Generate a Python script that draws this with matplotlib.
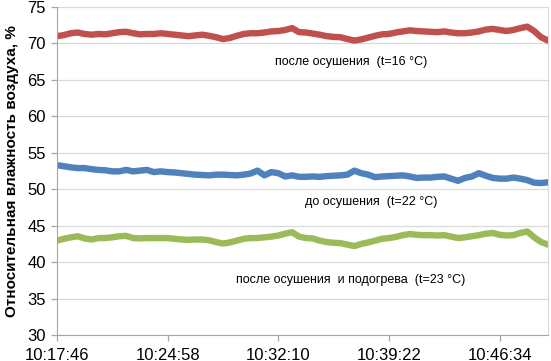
import numpy as np
import matplotlib
matplotlib.use("Agg")
import matplotlib.pyplot as plt

plt.rcParams['font.family'] = ['Liberation Sans', 'DejaVu Sans']

# sample interval 27 s, 72 samples starting 10:17:46
step_s = 27
tick_labels = ["10:17:46", "10:24:58", "10:32:10", "10:39:22", "10:46:34"]
tick_pos_s = [0, 432, 864, 1296, 1728]

after_drying = [71.0, 71.15, 71.4, 71.5, 71.3, 71.2, 71.3, 71.25, 71.4, 71.55,
                71.6, 71.4, 71.25, 71.3, 71.3, 71.4, 71.3, 71.2, 71.1, 71.0,
                71.1, 71.2, 71.05, 70.85, 70.6, 70.75, 71.05, 71.3, 71.4, 71.4,
                71.5, 71.65, 71.7, 71.85, 72.1, 71.55, 71.5, 71.35, 71.2, 71.0,
                70.9, 70.85, 70.6, 70.4, 70.55, 70.8, 71.05, 71.25, 71.3, 71.5,
                71.65, 71.8, 71.7, 71.65, 71.6, 71.55, 71.65, 71.5, 71.4, 71.4,
                71.5, 71.65, 71.9, 72.0, 71.85, 71.7, 71.85, 72.1, 72.3, 71.7,
                70.85, 70.4]

before_drying = [53.3, 53.15, 53.0, 52.9, 52.9, 52.75, 52.65, 52.6, 52.45, 52.45,
                 52.65, 52.45, 52.55, 52.65, 52.35, 52.45, 52.35, 52.3, 52.2, 52.1,
                 52.0, 51.95, 51.9, 52.0, 52.0, 51.95, 51.9, 52.0, 52.15, 52.55,
                 51.9, 52.35, 52.2, 51.75, 51.9, 51.7, 51.7, 51.75, 51.7, 51.8,
                 51.85, 51.9, 52.0, 52.55, 52.2, 52.0, 51.65, 51.75, 51.8, 51.85,
                 51.9, 51.75, 51.55, 51.6, 51.6, 51.7, 51.75, 51.45, 51.15, 51.55,
                 51.75, 52.2, 51.85, 51.55, 51.45, 51.45, 51.6, 51.45, 51.25, 50.9,
                 50.85, 50.95]

after_heating = [42.95, 43.2, 43.4, 43.55, 43.25, 43.1, 43.3, 43.3, 43.4, 43.55,
                 43.6, 43.3, 43.25, 43.3, 43.3, 43.3, 43.3, 43.2, 43.1, 43.05,
                 43.1, 43.1, 43.0, 42.75, 42.55, 42.7, 42.95, 43.2, 43.3, 43.3,
                 43.4, 43.5, 43.65, 43.9, 44.1, 43.5, 43.3, 43.25, 42.95, 42.75,
                 42.65, 42.6, 42.4, 42.2, 42.5, 42.7, 42.95, 43.2, 43.3, 43.45,
                 43.7, 43.85, 43.75, 43.7, 43.7, 43.65, 43.7, 43.5, 43.3, 43.4,
                 43.55, 43.7, 43.9, 44.0, 43.75, 43.65, 43.7, 44.0, 44.2, 43.4,
                 42.75, 42.4]

labels = ["после осушения  (t=16 °C)",
          "до осушения  (t=22 °C)",
          "после осушения  и подогрева  (t=23 °C)"]
colors = ["#C0504D", "#4F81BD", "#9BBB59"]

t = np.arange(len(after_drying)) * step_s

fig = plt.figure(figsize=(5.51, 3.61), dpi=100)
ax = fig.add_axes([57/551, 1-335/361, (548-57)/551, (335-7)/361])

for ys, c in zip([after_drying, before_drying, after_heating], colors):
    ax.plot(t, ys, color=c, lw=4.6, solid_capstyle='round', solid_joinstyle='round')

ax.set_xlim(0, t[-1])
ax.set_ylim(30, 75)
ax.set_yticks(np.arange(30, 76, 5))
ax.set_xticks(tick_pos_s)
ax.set_xticklabels(tick_labels)
ax.grid(axis='y', color='#D9D9D9', lw=0.9)
ax.set_axisbelow(True)
for s in ['left', 'bottom']:
    ax.spines[s].set_color('#A6A6A6')
ax.spines['right'].set_color('#D9D9D9')
ax.spines['top'].set_visible(False)
ax.tick_params(axis='both', labelsize=12, colors='#A6A6A6', labelcolor='#000000', length=4, width=0.9)
ax.tick_params(axis='y', pad=4)
ax.tick_params(axis='x', pad=5)

ax.set_ylabel("Относительная влажность воздуха, %", fontsize=11, fontweight='bold', labelpad=6)

xmid = t[-1]
ax.text(xmid*(351-57)/491, 67.5, labels[0], fontsize=9, ha='center', va='center')
ax.text(xmid*(371-57)/491, 48.3, labels[1], fontsize=9, ha='center', va='center')
ax.text(xmid*(351-57)/491, 37.6, labels[2], fontsize=9, ha='center', va='center')

fig.savefig("out.png", dpi=100)
